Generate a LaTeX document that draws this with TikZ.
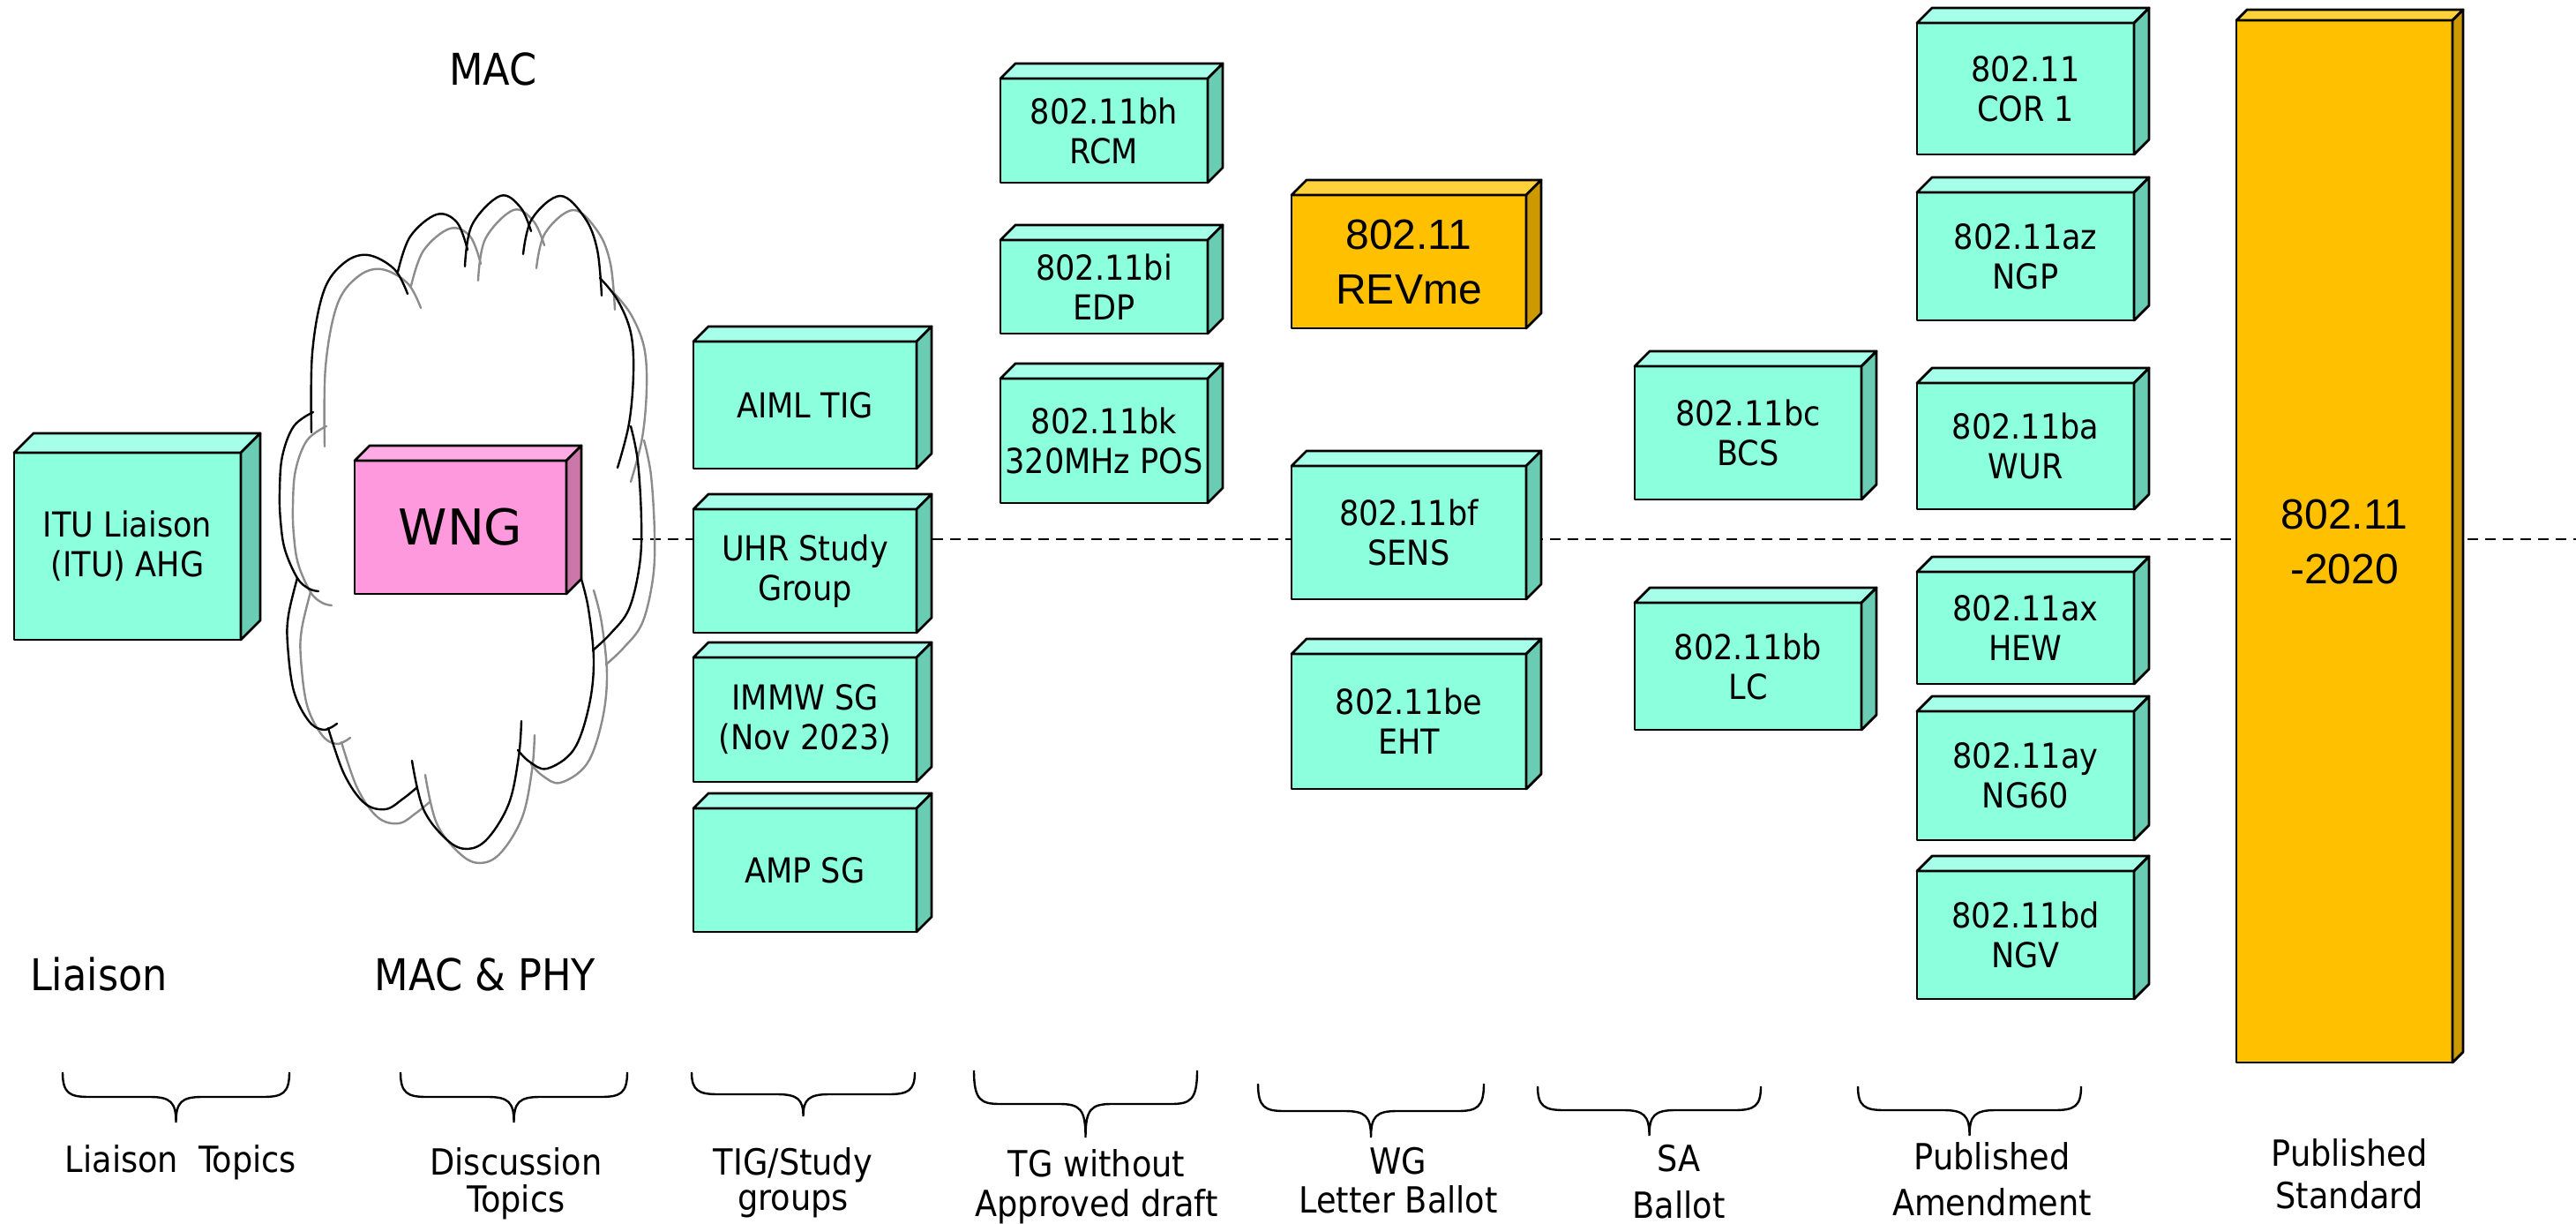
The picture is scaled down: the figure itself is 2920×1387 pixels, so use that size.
\documentclass[tikz,border=0pt]{standalone}
\usepackage{fontspec}
\setmainfont{DejaVu Sans Condensed}
\newfontfamily\arialf{Liberation Sans}
\newfontfamily\widef{DejaVu Sans}
\definecolor{gfront}{RGB}{140,255,220}
\definecolor{gtop}{RGB}{166,255,232}
\definecolor{gside}{RGB}{106,204,178}
\definecolor{ofront}{RGB}{255,192,0}
\definecolor{otop}{RGB}{255,210,60}
\definecolor{oside}{RGB}{204,154,0}
\definecolor{pfront}{RGB}{255,153,221}
\definecolor{ptop}{RGB}{255,172,230}
\definecolor{pside}{RGB}{204,119,170}
\tikzset{
  face/.style={draw=black, line width=0.7pt, line join=round},
  gtxt/.style={font=\fontsize{9.75}{11.25}\selectfont},
  otxt/.style={font=\arialf\fontsize{12}{15.5}\selectfont},
  wtxt/.style={font=\widef\fontsize{14}{16}\selectfont},
  toplabel/.style={font=\fontsize{12.4}{14}\selectfont, anchor=base},
  botlabel/.style={font=\fontsize{10.2}{10.4}\selectfont, align=center, anchor=north, inner sep=0pt},
  bracestyle/.style={line width=0.6pt},
  puff/.style={line width=0.6pt, line cap=round},
}
\newcommand\tdbox[9]{%
  \pgfmathsetmacro\bw{0.25*(#4-#2)}%
  \pgfmathsetmacro\bh{0.25*(#5-#3)}%
  \node[face, fill=#7front, #8, minimum width=\bw pt, minimum height=\bh pt,
        inner sep=0pt, outer sep=0pt, align=center] (#1) at ({(#2+#4)/2},{(#3+#5)/2}) {#9};
  \filldraw[face, fill=#7top] (#1.north west) -- ++(#6,-#6) -- ([shift={(#6,-#6)}]#1.north east) -- (#1.north east) -- cycle;
  \filldraw[face, fill=#7side] (#1.north east) -- ++(#6,-#6) -- ([shift={(#6,-#6)}]#1.south east) -- (#1.south east) -- cycle;
}
\newcommand\bracedraw[5]{%
  \pgfmathsetmacro\xm{(#1+#2)/2}%
  \draw[bracestyle] (#1,#3) .. controls (#1,#4-4) and (#1+8,#4) .. (#1+30,#4)
     -- (\xm-30,#4) .. controls (\xm-6,#4) and (\xm,#4+6) .. (\xm,#5)
     .. controls (\xm,#4+6) and (\xm+6,#4) .. (\xm+30,#4)
     -- (#2-30,#4) .. controls (#2-8,#4) and (#2,#4-4) .. (#2,#3);
}
\newcommand\cloudpuffs{%
  \draw plot[smooth, tension=0.6] coordinates {(353,490) (354,400) (367,330) (390,298) (417,289) (447,305) (462,333)};
  \draw plot[smooth, tension=0.6] coordinates {(451,308) (465,268) (495,243) (518,252) (530,283)};
  \draw plot[smooth, tension=0.6] coordinates {(527,302) (535,255) (567,222) (590,235) (602,262)};
  \draw plot[smooth, tension=0.6] coordinates {(593,288) (603,248) (635,222) (663,247) (677,283) (682,335)};
  \draw plot[smooth, tension=0.6] coordinates {(680,315) (700,340) (715,377) (718,423) (713,480) (700,530)};
  \draw plot[smooth, tension=0.6] coordinates {(715,483) (723,523) (727,590) (725,640) (713,690) (692,718) (672,737)};
  \draw plot[smooth, tension=0.6] coordinates {(658,653) (667,690) (673,750) (667,803) (650,850) (620,871) (600,863) (587,850)};
  \draw plot[smooth, tension=0.6] coordinates {(591,817) (588,857) (577,910) (553,950) (530,962) (507,952) (480,917) (467,862)};
  \draw plot[smooth, tension=0.6] coordinates {(473,892) (457,905) (437,917) (413,910) (390,877) (372,825)};
  \draw plot[smooth, tension=0.6] coordinates {(337,655) (327,697) (326,730) (333,783) (350,817) (367,827) (382,820)};
  \draw plot[smooth, tension=0.6] coordinates {(355,467) (333,483) (320,517) (317,557) (318,590) (323,623) (337,655) (350,667) (361,670)};
}
\begin{document}
\begin{tikzpicture}[x=0.25pt,y=-0.25pt]
\useasboundingbox[fill=white] (0,0) rectangle (2920,1387);

% dashed level line
\coordinate (dl) at (717,611);
\coordinate (dr) at (2920,611);
\draw[dashed, line width=0.6pt, dash pattern=on 3pt off 2pt] (dl) -- (dr);

% cloud (grey shadow, then black outline)
\begin{scope}[shift={(15,16)}, puff, draw=black!45]
  \cloudpuffs
\end{scope}
\begin{scope}[puff, draw=black]
  \cloudpuffs
\end{scope}

% top labels
\node[toplabel] (mac) at (559,97) {MAC};
\node[toplabel] (liaison) at (112,1123) {Liaison};
\node[toplabel] (macphy) at (550,1123) {MAC \& PHY};

% boxes
\tdbox{itu}{16}{513}{273}{725}{22}{g}{gtxt}{ITU Liaison\\(ITU) AHG}
\tdbox{wng}{402}{522}{642}{673}{17}{p}{wtxt}{WNG}

\tdbox{aiml}{786}{387}{1039}{531}{17}{g}{gtxt}{AIML TIG}
\tdbox{uhr}{786}{577}{1039}{717}{17}{g}{gtxt}{UHR Study\\Group}
\tdbox{immw}{786}{745}{1039}{886}{17}{g}{gtxt}{IMMW SG\\(Nov 2023)}
\tdbox{amp}{786}{916}{1039}{1056}{17}{g}{gtxt}{AMP SG}

\tdbox{bh}{1134}{89}{1369}{207}{17}{g}{gtxt}{802.11bh\\RCM}
\tdbox{bi}{1134}{272}{1369}{378}{17}{g}{gtxt}{802.11bi\\EDP}
\tdbox{bk}{1134}{429}{1369}{570}{17}{g}{gtxt}{802.11bk\\320MHz POS}

\tdbox{revme}{1464}{221}{1730}{372}{17}{o}{otxt}{802.11\\REVme}
\tdbox{bf}{1464}{528}{1730}{679}{17}{g}{gtxt}{802.11bf\\SENS}
\tdbox{be}{1464}{741}{1730}{894}{17}{g}{gtxt}{802.11be\\EHT}

\tdbox{bc}{1853}{415}{2110}{566}{17}{g}{gtxt}{802.11bc\\BCS}
\tdbox{bb}{1853}{683}{2110}{827}{17}{g}{gtxt}{802.11bb\\LC}

\tdbox{cor}{2173}{26}{2419}{175}{17}{g}{gtxt}{802.11\\COR 1}
\tdbox{az}{2173}{218}{2419}{363}{17}{g}{gtxt}{802.11az\\NGP}
\tdbox{ba}{2173}{434}{2419}{577}{17}{g}{gtxt}{802.11ba\\WUR}
\tdbox{ax}{2173}{648}{2419}{775}{17}{g}{gtxt}{802.11ax\\HEW}
\tdbox{ay}{2173}{806}{2419}{952}{17}{g}{gtxt}{802.11ay\\NG60}
\tdbox{bd}{2173}{987}{2419}{1132}{17}{g}{gtxt}{802.11bd\\NGV}

\tdbox{std}{2535}{23}{2780}{1204}{12}{o}{otxt}{802.11\\-2020}

% braces
\bracedraw{71}{328}{1215}{1243}{1272}
\bracedraw{454}{711}{1215}{1243}{1272}
\bracedraw{784}{1037}{1215}{1240}{1265}
\bracedraw{1104}{1357}{1213}{1251}{1289}
\bracedraw{1426}{1682}{1228}{1259}{1289}
\bracedraw{1743}{1996}{1231}{1258}{1287}
\bracedraw{2106}{2359}{1231}{1258}{1287}

% bottom labels
\node[botlabel, anchor=base] (lt) at (205,1328) {Liaison\ \ Topics};
\node[botlabel] (dt) at (585,1300) {Discussion\\Topics};
\node[botlabel] (tig) at (899,1300) {TIG/Study\\[-0.4pt]groups};
\node[botlabel] (tg) at (1243,1302) {TG without\\[0.8pt]Approved draft};
\node[botlabel] (wg) at (1585,1299) {WG\\[0.8pt]Letter Ballot};
\node[botlabel] (sa) at (1903,1296) {SA\\[3pt]Ballot};
\node[botlabel] (pa) at (2258,1294) {Published\\[2.6pt]Amendment};
\node[botlabel] (ps) at (2663,1290) {Published\\[1.6pt]Standard};
\end{tikzpicture}
\end{document}
